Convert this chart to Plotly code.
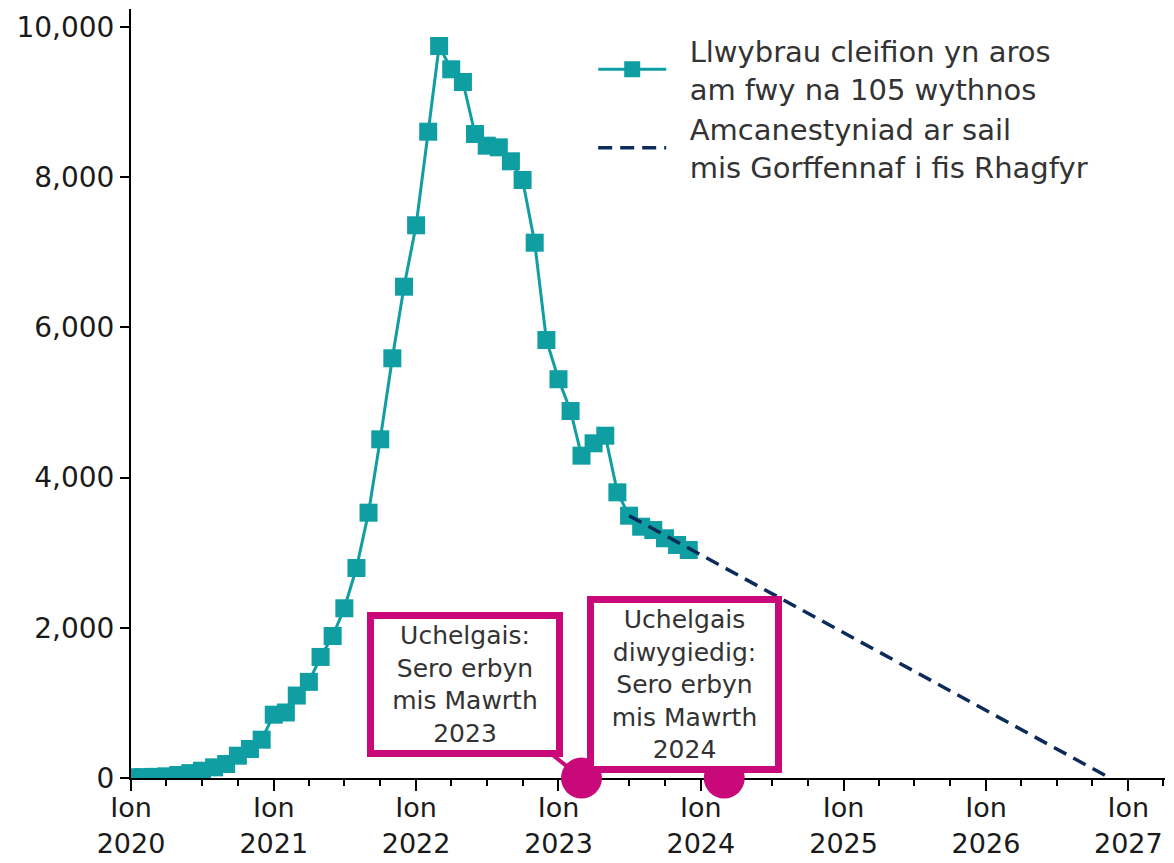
import plotly.graph_objects as go

# ---- data ----
months = [
    "2020-01-01", "2020-02-01", "2020-03-01", "2020-04-01", "2020-05-01", "2020-06-01",
    "2020-07-01", "2020-08-01", "2020-09-01", "2020-10-01", "2020-11-01", "2020-12-01",
    "2021-01-01", "2021-02-01", "2021-03-01", "2021-04-01", "2021-05-01", "2021-06-01",
    "2021-07-01", "2021-08-01", "2021-09-01", "2021-10-01", "2021-11-01", "2021-12-01",
    "2022-01-01", "2022-02-01", "2022-03-01", "2022-04-01", "2022-05-01", "2022-06-01",
    "2022-07-01", "2022-08-01", "2022-09-01", "2022-10-01", "2022-11-01", "2022-12-01",
    "2023-01-01", "2023-02-01", "2023-03-01", "2023-04-01", "2023-05-01", "2023-06-01",
    "2023-07-01", "2023-08-01", "2023-09-01", "2023-10-01", "2023-11-01", "2023-12-01",
]
pathways_over_105_weeks = [
    10, 12, 15, 22, 40, 65, 97, 142, 186, 297, 386, 510,
    843, 872, 1098, 1280, 1612, 1891, 2260, 2796, 3533, 4510, 5589, 6542,
    7360, 8606, 9747, 9437, 9268, 8575, 8420, 8398, 8212, 7963, 7128, 5832,
    5310, 4887, 4292, 4457, 4558, 3804, 3493, 3346, 3302, 3192, 3103, 3036,
]
projection_dates = ["2023-07-01", "2026-11-15"]
projection_values = [3493, 0]

target_dates = ["2023-03-01", "2024-03-01"]
target_values = [0, 0]
target_labels = [
    "Uchelgais:<br>Sero erbyn<br>mis Mawrth<br>2023",
    "Uchelgais<br>diwygiedig:<br>Sero erbyn<br>mis Mawrth<br>2024",
]

series_names = [
    ["Llwybrau cleifion yn aros", "am fwy na 105 wythnos"],
    ["Amcanestyniad ar sail", "mis Gorffennaf i fis Rhagfyr"],
]

year_ticks = ["2020-01-01", "2021-01-01", "2022-01-01", "2023-01-01",
              "2024-01-01", "2025-01-01", "2026-01-01", "2027-01-01"]
year_labels = ["Ion<br>2020", "Ion<br>2021", "Ion<br>2022", "Ion<br>2023",
               "Ion<br>2024", "Ion<br>2025", "Ion<br>2026", "Ion<br>2027"]
y_ticks = [0, 2000, 4000, 6000, 8000, 10000]

# ---- style ----
TEAL = "#0F9EA2"
NAVY = "#0C2B5B"
MAGENTA = "#C9087A"
FONT = "DejaVu Sans"
GAP = "\u00a0\u00a0"


def legend_name(lines):
    return "<br>".join(GAP + ln for ln in lines)


fig = go.Figure()

fig.add_trace(go.Scatter(
    x=months, y=pathways_over_105_weeks, name=legend_name(series_names[0]),
    mode="lines+markers",
    line=dict(color=TEAL, width=3),
    marker=dict(symbol="square", size=18, color=TEAL),
))
fig.add_trace(go.Scatter(
    x=projection_dates, y=projection_values, name=legend_name(series_names[1]),
    mode="lines",
    line=dict(color=NAVY, width=3.5, dash="14px,8px"),
))
fig.add_trace(go.Scatter(
    x=target_dates, y=target_values, mode="markers", showlegend=False,
    marker=dict(symbol="circle", size=41, color=MAGENTA),
    cliponaxis=False, hoverinfo="skip",
))

box_specs = [
    dict(ax=-117, ay=-93.5, width=182, height=131),
    dict(ax=-39.5, ay=-93.5, width=181, height=163),
]
for d, v, label, spec in zip(target_dates, target_values, target_labels, box_specs):
    fig.add_annotation(
        x=d, y=v, xref="x", yref="y", text=label,
        showarrow=True, arrowhead=0, arrowwidth=4, arrowcolor=MAGENTA,
        ax=spec["ax"], ay=spec["ay"],
        width=spec["width"], height=spec["height"],
        bordercolor=MAGENTA, borderwidth=7, borderpad=0, bgcolor="white",
        font=dict(family=FONT, size=25, color="#333333"), align="center",
    )

fig.update_layout(
    width=1174, height=863,
    margin=dict(l=131, r=9, t=9, b=85),
    paper_bgcolor="white", plot_bgcolor="white",
    font=dict(family=FONT, size=28, color="#1a1a1a"),
    showlegend=True,
    legend=dict(
        x=0.447, y=0.979, xanchor="left", yanchor="top",
        font=dict(family=FONT, size=29, color="#333333"),
        bgcolor="rgba(0,0,0,0)", valign="middle", tracegroupgap=10,
        itemwidth=68,
    ),
)

fig.update_xaxes(
    type="date", range=["2020-01-01", "2027-04-05"],
    tickvals=year_ticks, ticktext=year_labels,
    showline=True, linecolor="black", linewidth=2,
    ticks="outside", ticklen=11, tickwidth=2, tickcolor="black",
    minor=dict(dtick="M3", tick0="2020-01-01", ticks="outside", ticklen=6,
               tickwidth=2, tickcolor="black", showgrid=False),
    showgrid=False, zeroline=False, layer="below traces", automargin=False,
    ticklabelstandoff=-6,
    tickfont=dict(family=FONT, size=27, color="#1a1a1a"),
)
fig.update_yaxes(
    range=[0, 10240], tickvals=y_ticks, tickformat=",d",
    showline=True, linecolor="black", linewidth=2,
    ticks="outside", ticklen=9, tickwidth=2, tickcolor="black",
    showgrid=False, zeroline=False, automargin=False,
    tickfont=dict(family=FONT, size=28, color="#1a1a1a"),
)

fig.write_html("out.html", config={"displayModeBar": False},
               post_script="document.body.style.margin='0';")
